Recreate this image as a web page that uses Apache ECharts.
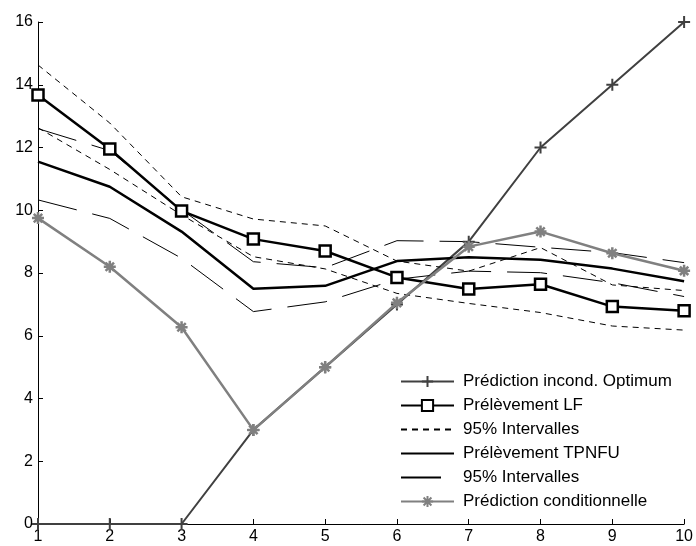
<!DOCTYPE html>
<html>
<head>
<meta charset="utf-8">
<script src="https://cdn.jsdelivr.net/npm/echarts@6/dist/echarts.min.js"></script>
<style>
  html, body { margin: 0; padding: 0; background: #fff; }
  #chart { width: 696px; height: 546px; }
</style>
</head>
<body>
<div id="chart"></div>
<script>
// Horizon (periods 1..10)
const periods = [1, 2, 3, 4, 5, 6, 7, 8, 9, 10];
const yTicks = [0, 2, 4, 6, 8, 10, 12, 14, 16];

const optimum      = [0, 0, 0, 3, 5, 7, 9, 12, 14, 16];
const lf           = [13.67, 11.95, 9.98, 9.08, 8.70, 7.86, 7.49, 7.64, 6.93, 6.80];
const lfUpper      = [14.63, 12.78, 10.43, 9.72, 9.50, 8.38, 8.06, 8.81, 7.62, 7.44];
const lfLower      = [12.63, 11.30, 9.85, 8.52, 8.13, 7.35, 7.03, 6.74, 6.31, 6.18];
const tpnfu        = [11.55, 10.75, 9.32, 7.50, 7.59, 8.38, 8.50, 8.42, 8.14, 7.74];
const tpnfuUpper   = [12.60, 11.90, 10.02, 8.36, 8.17, 9.03, 9.00, 8.82, 8.65, 8.33];
const tpnfuLower   = [10.33, 9.74, 8.47, 6.77, 7.08, 7.80, 8.06, 8.01, 7.69, 7.25];
const conditional  = [9.75, 8.20, 6.27, 3.00, 5.00, 7.05, 8.84, 9.32, 8.63, 8.07];

const legendLabels = {
  'optimum': 'Prédiction incond. Optimum',
  'lf': 'Prélèvement LF',
  'icLf': '95% Intervalles',
  'tpnfu': 'Prélèvement TPNFU',
  'icTpnfu': '95% Intervalles',
  'cond': 'Prédiction conditionnelle'
};

const pairs = arr => periods.map((p, i) => [p, arr[i]]);

const plusSymbol = 'path://M0,-1L0,1M-1,0L1,0';
const starSymbol = 'path://M0,-1L0,1M-1,0L1,0M-0.7,-0.7L0.7,0.7M0.7,-0.7L-0.7,0.7';

const FONT = '"Liberation Sans", Arial, Helvetica, sans-serif';

function lineSeries(id, data, color, width, type, extra) {
  return Object.assign({
    name: id,
    type: 'line',
    data: pairs(data),
    showSymbol: false,
    symbol: 'none',
    lineStyle: { color: color, width: width, type: type },
    itemStyle: { color: color },
    emphasis: { disabled: true },
    animation: false
  }, extra || {});
}

// entries without markers: hide the legend marker, keep the line sample
const noMark = { opacity: 0 };

const chart = echarts.init(document.getElementById('chart'), null, { renderer: 'canvas' });

chart.setOption({
  backgroundColor: '#fff',
  animation: false,
  grid: { left: 38, right: 8, top: 22, bottom: 22 },
  legend: {
    data: [
      { name: 'optimum' },
      { name: 'lf' },
      { name: 'icLf', itemStyle: noMark },
      { name: 'tpnfu', itemStyle: noMark },
      { name: 'icTpnfu', itemStyle: noMark },
      { name: 'cond' }
    ],
    orient: 'vertical',
    left: 395,
    top: 368,
    itemWidth: 53,
    itemHeight: 14,
    itemGap: 7,
    formatter: name => legendLabels[name],
    textStyle: { fontFamily: FONT, fontSize: 17, lineHeight: 17, color: '#000', padding: [0, 0, 0, 4] },
    selectedMode: false
  },
  xAxis: {
    type: 'value',
    min: 1,
    max: 10,
    interval: 1,
    axisLine: { onZero: false, lineStyle: { color: '#000', width: 1 } },
    axisTick: { inside: true, length: 5, lineStyle: { color: '#000' } },
    axisLabel: { color: '#000', fontFamily: FONT, fontSize: 16, margin: 5 },
    splitLine: { show: false }
  },
  yAxis: {
    type: 'value',
    min: yTicks[0],
    max: yTicks[yTicks.length - 1],
    interval: 2,
    axisLine: { show: true, onZero: false, lineStyle: { color: '#000', width: 1 } },
    axisTick: { show: true, inside: true, length: 5, lineStyle: { color: '#000' } },
    axisLabel: { color: '#000', fontFamily: FONT, fontSize: 16, margin: 5 },
    splitLine: { show: false }
  },
  series: [
    lineSeries('optimum', optimum, '#404040', 2, 'solid', {
      showSymbol: true, symbol: plusSymbol, symbolSize: 12,
      itemStyle: { color: '#404040', borderColor: '#404040', borderWidth: 2 },
      clip: false, z: 2
    }),
    lineSeries('lf', lf, '#000', 2.5, 'solid', {
      showSymbol: true, symbol: 'rect', symbolSize: 11,
      itemStyle: { color: '#fff', borderColor: '#000', borderWidth: 2.5 },
      clip: false, z: 3
    }),
    lineSeries('icLf', lfUpper, '#000', 1, [6, 5], { z: 2 }),
    lineSeries('icLf', lfLower, '#000', 1, [6, 5], { z: 2 }),
    lineSeries('tpnfu', tpnfu, '#000', 2.5, 'solid', { z: 2 }),
    lineSeries('icTpnfu', tpnfuUpper, '#000', 1, [40, 16], { z: 2 }),
    lineSeries('icTpnfu', tpnfuLower, '#000', 1, [40, 16], { z: 2 }),
    lineSeries('cond', conditional, '#808080', 2.5, 'solid', {
      showSymbol: true, symbol: starSymbol, symbolSize: 12,
      itemStyle: { color: '#808080', borderColor: '#808080', borderWidth: 2.5 },
      clip: false, z: 4
    })
  ]
});
</script>
</body>
</html>
